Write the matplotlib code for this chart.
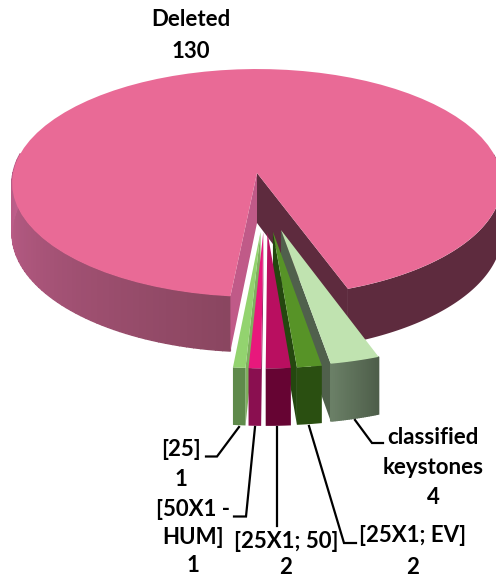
import numpy as np
import matplotlib
matplotlib.use('Agg')
import matplotlib.pyplot as plt
from matplotlib.patches import Polygon

plt.rcParams['font.family'] = ['Lato', 'DejaVu Sans']

names = ['Deleted', 'classified\nkeystones', '[25X1; EV]', '[25X1; 50]', '[50X1 -\nHUM]', '[25]']
values = [130, 4, 2, 2, 1, 1]

top_colors = ['#e96a96', '#c0e3b0', '#579327', '#b90f60', '#e8187c', '#93d36f']
front_colors = ['#5e2b3e', '#5c6e57', '#2a4f11', '#660433', '#8a0f50', '#5f8a4b']
side_colors = ['#c05a88', '#50604c', '#24470f', '#660433', '#8a0f50', '#7fb05f']

# pie layout in pixels
cx, cy = 257, 173
rx = 244
a, k = 113.1, 0.0877
depth = 50
first_edge = 20.0  # where the Deleted slice ends, degrees from straight down
explode_u = 0.241
explode_c = 0.0325
explode_v = 0.5


def proj(u, v, z=0):
    s = 1 / (1 - k * v)
    return cx + rx * u * s, cy + a * v * s + depth * z * s


def arc(t0, t1, ou=0, ov=0, z=0, n=80):
    ts = np.radians(np.linspace(t0, t1, n))
    return [proj(ou + np.sin(t), ov + np.cos(t), z) for t in ts]


def shaded_wall(t0, t1, col0, col1, ou=0, ov=0, steps=60):
    # wall drawn as thin strips so the colour can change along the arc
    c0 = np.array(matplotlib.colors.to_rgb(col0))
    c1 = np.array(matplotlib.colors.to_rgb(col1))
    ts = np.linspace(t0, t1, steps)
    for i in range(steps - 1):
        p = arc(ts[i], ts[i + 1], ou, ov, n=4) + arc(ts[i + 1], ts[i], ou, ov, z=1, n=4)
        col = c0 + (c1 - c0) * i / (steps - 2)
        ax.add_patch(Polygon(p, fc=col, ec=col, lw=1.0))


fig = plt.figure(figsize=(4.96, 5.79), dpi=100)
ax = fig.add_axes([0, 0, 1, 1])
ax.set_xlim(0, 496)
ax.set_ylim(579, 0)
ax.axis('off')

total = sum(values)
sweep = [v / total * 360 for v in values]

end = first_edge + sweep[0]
left_cut = end - 360

shaded_wall(left_cut, -100, '#8a4660', '#c05f8c')
ax.add_patch(Polygon(arc(first_edge, 100) + arc(100, first_edge, z=1), fc=front_colors[0], ec='none'))

# cut faces
lx = (np.sin(np.radians(left_cut)), np.cos(np.radians(left_cut)))
rxy = (np.sin(np.radians(first_edge)), np.cos(np.radians(first_edge)))
ax.add_patch(Polygon([proj(0, 0), proj(*lx), proj(*lx, 1), proj(0, 0, 1)], fc=side_colors[0], ec='none'))
ax.add_patch(Polygon([proj(0, 0), proj(*rxy), proj(*rxy, 1), proj(0, 0, 1)], fc=front_colors[0], ec='none'))

# top of big slice
ax.add_patch(Polygon([proj(0, 0)] + arc(first_edge, end), fc=top_colors[0], ec='none'))

# exploded slices, drawn from the outside in
edges = [first_edge]
for s in sweep[1:]:
    edges.append(edges[-1] - s)

for i in [1, 5, 4, 2, 3]:
    hi = edges[i - 1]
    lo = edges[i]
    mid = np.radians((hi + lo) / 2)
    ou = explode_c + explode_u * np.sin(mid)
    ov = explode_v * np.cos(mid)
    tip = proj(ou, ov)
    tip_b = proj(ou, ov, 1)
    lo_t = arc(lo, lo, ou, ov, n=1)[0]
    lo_b = arc(lo, lo, ou, ov, z=1, n=1)[0]
    hi_t = arc(hi, hi, ou, ov, n=1)[0]
    hi_b = arc(hi, hi, ou, ov, z=1, n=1)[0]
    if hi > 0 and lo > 0:
        ax.add_patch(Polygon([tip, lo_t, lo_b, tip_b], fc=side_colors[i], ec='none'))
    elif hi < 0:
        ax.add_patch(Polygon([tip, hi_t, hi_b, tip_b], fc=side_colors[i], ec='none'))
    if i == 1:
        shaded_wall(hi, lo, '#4e5e4a', '#6a7f66', ou, ov, steps=25)
    else:
        ax.add_patch(Polygon(arc(lo, hi, ou, ov) + arc(hi, lo, ou, ov, z=1), fc=front_colors[i], ec='none'))
    ax.add_patch(Polygon([tip] + arc(lo, hi, ou, ov), fc=top_colors[i], ec='none'))

# leader lines
leaders = [
    [(355, 420), (372, 443), (383, 443)],
    [(309, 426), (344, 543), (356, 543)],
    [(277, 427), (277, 526)],
    [(255, 427), (246, 516.5), (234, 516.5)],
    [(239, 427), (217, 456.5), (206, 456.5)],
]
for line in leaders:
    xs, ys = zip(*line)
    ax.plot(xs, ys, color='black', lw=1.6, solid_joinstyle='miter')

# labels: centre x, first line y, line pitch
label_pos = [(191, 20, 32), (433, 437, 30.5), (413, 536, 31), (286, 541, 26), (193, 510, 28), (181, 449, 31)]
for name, val, (x, y, pitch) in zip(names, values, label_pos):
    for j, line in enumerate(name.split('\n') + [str(val)]):
        ax.text(x, y + j * pitch, line, ha='center', va='center', fontsize=16,
                fontweight='bold', color='black')

fig.savefig('out.png', dpi=100)
